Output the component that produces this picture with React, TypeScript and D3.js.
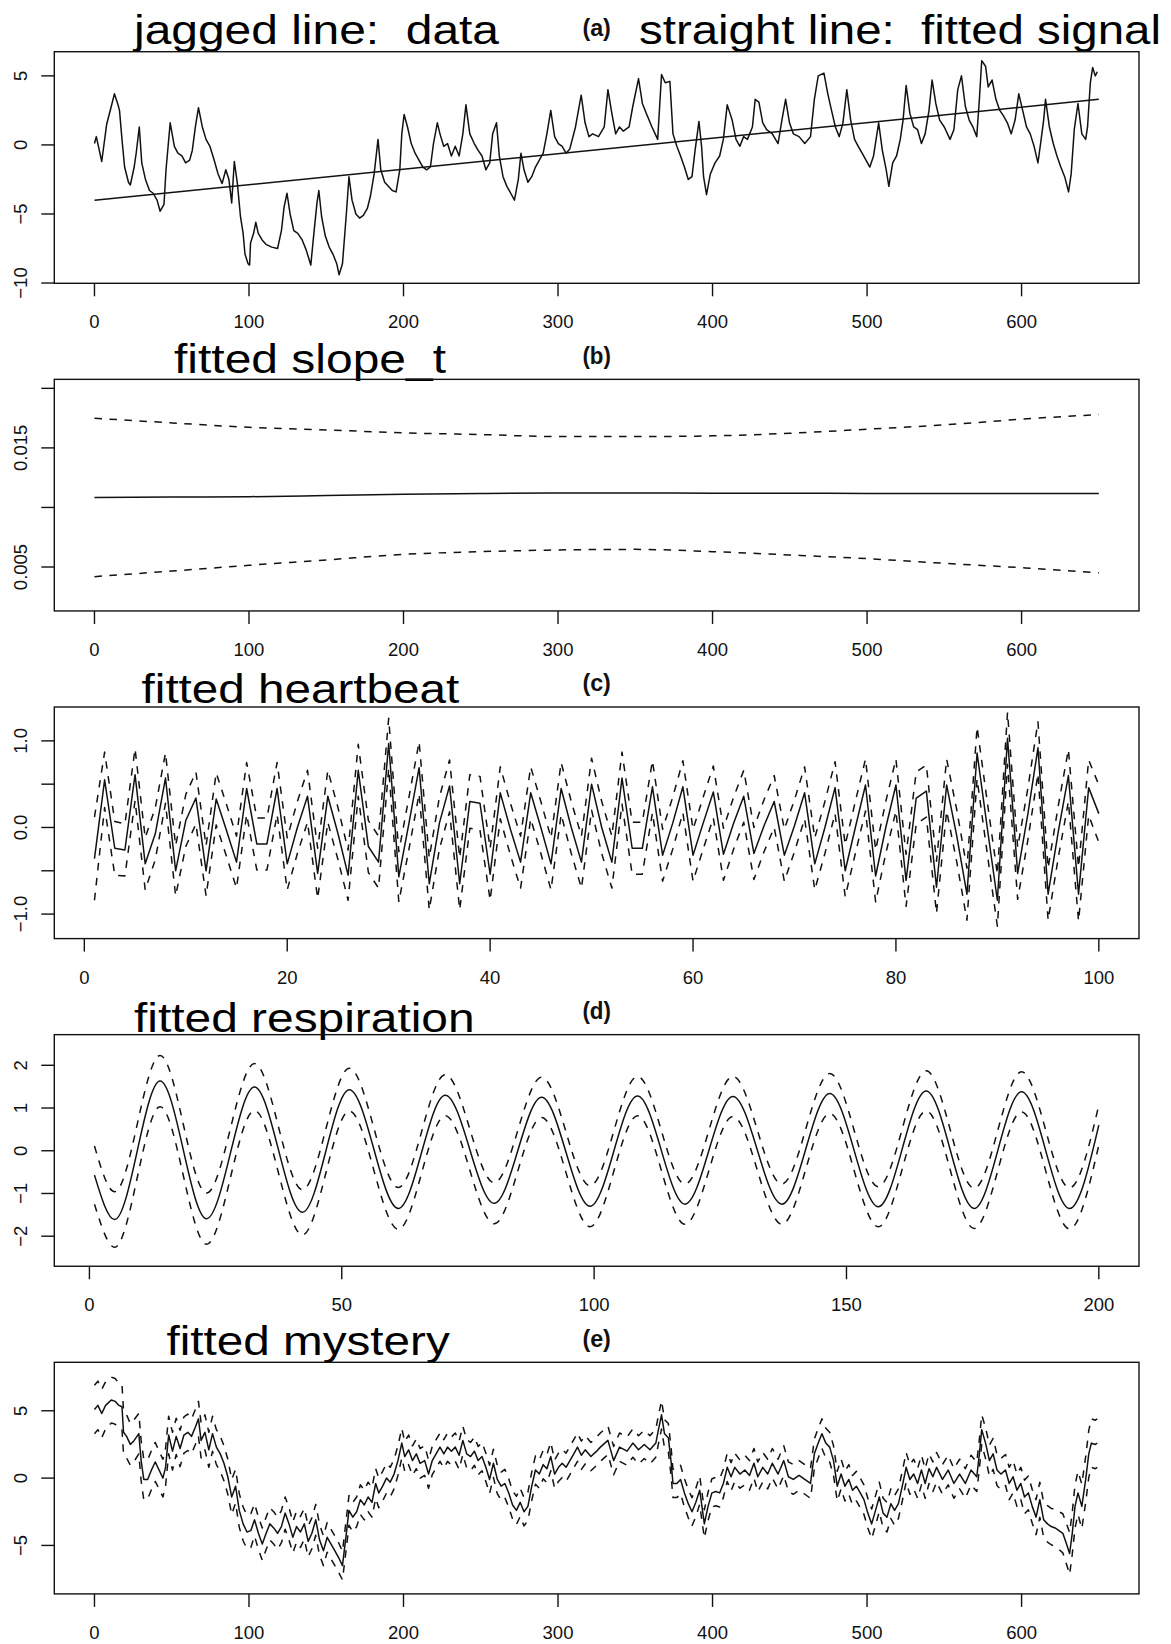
import React from 'react';
import * as d3 from 'd3';

const W = 1171;
const H = 1644;
const PANEL_H = 327.65;
const BOX = { left: 54.3, right: 1139, top: 51.7, bottom: 283.3 };
const FONT = '"Liberation Sans", Arial, Helvetica, sans-serif';
const INK = '#111';

// ---- tick values / labels ----
const longXTicks = [0, 100, 200, 300, 400, 500, 600];
const heartXTicks = [0, 20, 40, 60, 80, 100];
const respXTicks = [0, 50, 100, 150, 200];

const signalYTicks = [-10, -5, 0, 5];
const signalYLabels = ['\u221210', '\u22125', '0', '5'];
const slopeYTicks = [0.005, 0.01, 0.015, 0.02];
const slopeYLabels = ['0.005', '', '0.015', ''];
const heartYTicks = [-1, -0.5, 0, 0.5, 1];
const heartYLabels = ['\u22121.0', '', '0.0', '', '1.0'];
const respYTicks = [-2, -1, 0, 1, 2];
const respYLabels = ['\u22122', '\u22121', '0', '1', '2'];
const mysteryYTicks = [-5, 0, 5];
const mysteryYLabels = ['\u22125', '0', '5'];

// ---- (a) data: [t, value] ----
const signalPts = [
  [0, 0.1], [1.2, 0.6], [4.7, -1.2], [7.9, 1.5], [10.9, 2.8], [12.9, 3.7], [15, 3.0], [16.2, 2.5],
  [17.8, 0.4], [19.5, -1.6], [22, -2.7], [23.2, -2.9], [25.7, -1.6], [27, -0.6], [29, 1.3], [30.6, -1.3],
  [33, -2.5], [35.6, -3.3], [38, -3.5], [40.5, -4.0], [42.5, -4.8], [45, -4.3], [46.3, -1.8], [49, 1.6],
  [51.7, -0.1], [54, -0.6], [56.6, -0.8], [59, -1.3], [61.6, -1.1], [63.3, -0.4], [65.3, 1.3], [67.3, 2.7],
  [69.8, 1.3], [72.2, 0.4], [74.7, -0.1], [77.2, -1.0], [80, -2.1], [82.6, -2.8], [85, -1.8], [87, -2.5],
  [88.8, -4.2], [90.5, -1.2], [92.5, -2.8], [94.5, -5.2], [96.2, -6.4], [97.4, -7.9], [99.4, -8.6], [100.4, -8.7],
  [101, -7.1], [103, -6.4], [104.4, -5.6], [106, -6.4], [108.6, -6.9], [111, -7.2], [114.7, -7.4], [118.5, -7.5],
  [121, -6.2], [122.7, -4.5], [124.6, -3.5], [126.6, -5.0], [129, -6.2], [131.6, -6.4], [134.5, -6.9], [137, -7.6],
  [140, -8.7], [142, -6.4], [144, -4.2], [145.2, -3.3], [147, -5.2], [149.4, -6.6], [151.9, -7.4], [154.3, -7.9],
  [156.8, -8.6], [158.3, -9.4], [160.5, -8.6], [163, -5.0], [164.7, -2.3], [166.7, -4.0], [169.2, -5.0], [171.6, -5.3],
  [174, -5.1], [176.6, -4.6], [178.6, -3.7], [181, -2.1], [183.5, 0.4], [185.3, -1.8], [187.8, -2.7], [190.2, -3.0],
  [192.7, -3.3], [195.2, -3.4], [197.6, -1.8], [198.9, 0.8], [200.4, 2.2], [202.6, 1.3], [205, 0.1], [207.5, -0.6],
  [210, -1.1], [212.5, -1.6], [215, -1.8], [217.4, -1.6], [219.4, 0.1], [221.9, 1.6], [223.6, 0.8], [226, -0.1],
  [228.5, 0.1], [231, -0.8], [233.5, -0.1], [236, -0.8], [238.4, 0.8], [240.4, 2.9], [242.9, 0.8], [245.8, 0.1],
  [248.3, -0.4], [250.8, -0.8], [253.3, -1.8], [255.8, -1.3], [257.7, 0.8], [260.2, 1.6], [262, -0.8], [264.4, -2.3],
  [266.9, -3.0], [269.4, -3.5], [271.8, -4.0], [274.3, -2.5], [276, -0.6], [278, -1.8], [280.5, -2.7], [283, -2.3],
  [285.4, -1.6], [287.9, -1.1], [290.4, -0.6], [292.8, 0.8], [295.3, 2.5], [297.8, 0.6], [300.2, 0.1], [302.7, -0.1],
  [305.2, -0.6], [307.6, -0.3], [311.3, 1.3], [315, 3.6], [317.5, 1.6], [320, 0.6], [322.4, 0.8], [326.2, 0.6],
  [329.9, 1.3], [332.3, 4.0], [334.8, 2.3], [337.3, 0.8], [339.8, 1.3], [342.2, 1.0], [346, 1.3], [348.4, 2.8],
  [352.1, 4.8], [354.6, 3.0], [357.1, 2.3], [360.8, 1.3], [364.5, 0.4], [367, 5.1], [369.4, 4.5], [372.4, 4.6],
  [374.4, 0.8], [376.9, -0.1], [379.3, -0.8], [381.8, -1.6], [384.3, -2.5], [386.7, -2.3], [388.7, -0.4], [391.2, 1.7],
  [392.9, -0.1], [394.2, -2.3], [396.1, -3.6], [398.6, -2.1], [401.6, -1.3], [404.6, -0.8], [407, 0.4], [409.5, 2.9],
  [412.7, 1.8], [415.2, 0.4], [417.7, -0.1], [420.1, 0.6], [422.6, 0.4], [425.8, 1.3], [427.6, 3.3], [430, 3.1],
  [432.5, 1.6], [435, 1.1], [438.7, 0.8], [442.4, 0.1], [444.9, 1.8], [447.3, 3.3], [449.8, 1.6], [452.3, 0.8],
  [456, 0.6], [459.7, 0.1], [463.4, 0.6], [465.9, 3.3], [468.4, 5.0], [472.1, 5.2], [474.6, 3.7], [477, 2.5],
  [479.5, 1.3], [482, 0.6], [484.4, 1.6], [486.9, 4.0], [489.4, 1.8], [491.9, 0.4], [494.3, -0.1], [496.8, -0.6],
  [499.3, -1.1], [501.8, -1.6], [504.2, -0.8], [507.5, 1.6], [509.9, -0.4], [512.4, -1.8], [514.1, -3.0], [516.6, -1.3],
  [519.1, -0.8], [521.5, 0.4], [523.3, 1.8], [525.3, 4.3], [527.7, 2.3], [530.2, 1.3], [532.7, 1.1], [535.2, 0.1],
  [537.6, 0.8], [540.1, 2.5], [542.1, 4.7], [544.5, 3.0], [547, 1.8], [550, 1.3], [553.7, 0.4], [556.2, 1.1],
  [558.7, 4.0], [561.1, 5.0], [563.6, 2.8], [566.1, 1.8], [568.5, 1.3], [571, 0.6], [572.7, 3.3], [574.2, 6.1],
  [576.7, 5.7], [578.4, 4.2], [580.9, 4.7], [583.4, 3.3], [585.9, 2.5], [588.3, 2.1], [590.8, 1.6], [593.3, 0.8],
  [595.8, 1.8], [598.2, 3.7], [600.7, 2.5], [603.2, 1.3], [605.6, 0.8], [608.1, -0.1], [610.6, -1.3], [612.3, 0.1],
  [614.3, 1.8], [615.5, 3.3], [618, 1.3], [620.5, 0.1], [622.9, -0.8], [625.4, -1.6], [627.9, -2.3], [630.4, -3.4],
  [632.1, -2.1], [634.1, 1.1], [636.5, 3.0], [639, 0.8], [641.5, 0.4], [642.7, 1.3], [644.5, 4.5], [646, 5.6],
  [647.7, 5.0], [649, 5.3],
];
const levelX = [0, 650];
const levelY = [-4.0, 3.3];

// ---- (b) fitted slope with band ----
const slopeX = [0, 50, 100, 150, 200, 250, 300, 350, 400, 450, 500, 550, 600, 650];
const slopeFit = [0.01084, 0.01087, 0.0109, 0.011, 0.0111, 0.01117, 0.01122, 0.01121, 0.0112, 0.01119, 0.01118, 0.01118, 0.01118, 0.01118];
const slopeUpper = [0.01749, 0.0171, 0.01673, 0.01651, 0.01626, 0.01612, 0.01595, 0.01595, 0.01601, 0.01623, 0.01657, 0.01693, 0.01741, 0.0178];
const slopeLower = [0.00419, 0.00466, 0.00514, 0.00559, 0.00606, 0.00629, 0.00643, 0.00648, 0.00629, 0.00601, 0.0057, 0.00531, 0.00494, 0.00452];

// ---- (c) heartbeat, t = 1..100 ----
const heartFit = [
  -0.36, 0.55, -0.24, -0.26, 0.61, -0.42, -0.07, 0.57, -0.5, 0.08,
  0.34, -0.5, 0.33, -0.03, -0.4, 0.45, -0.19, -0.19, 0.45, -0.42,
  0.0, 0.36, -0.53, 0.36, -0.07, -0.55, 0.66, -0.22, -0.4, 0.97,
  -0.57, 0.05, 0.69, -0.65, 0.05, 0.48, -0.65, 0.3, 0.28, -0.54,
  0.4, -0.02, -0.4, 0.4, 0.0, -0.42, 0.45, 0.0, -0.4, 0.5,
  0.0, -0.4, 0.57, -0.24, -0.24, 0.47, -0.32, 0.05, 0.47, -0.32,
  0.05, 0.41, -0.31, 0.05, 0.36, -0.3, 0.02, 0.3, -0.32, 0.02,
  0.4, -0.42, 0.0, 0.46, -0.5, 0.0, 0.49, -0.56, 0.0, 0.49,
  -0.61, 0.34, 0.42, -0.69, 0.49, -0.1, -0.77, 0.86, 0.0, -0.84,
  1.03, -0.53, 0.15, 0.92, -0.77, -0.05, 0.6, -0.77, 0.46, 0.16,
];
const heartBand = [
  0.48, 0.32, 0.31, 0.3, 0.3, 0.3, 0.3, 0.29, 0.29, 0.3,
  0.3, 0.29, 0.3, 0.3, 0.3, 0.3, 0.3, 0.3, 0.3, 0.3,
  0.3, 0.3, 0.29, 0.3, 0.3, 0.29, 0.3, 0.3, 0.3, 0.29,
  0.29, 0.3, 0.3, 0.3, 0.3, 0.3, 0.3, 0.31, 0.31, 0.3,
  0.3, 0.3, 0.3, 0.3, 0.3, 0.3, 0.3, 0.3, 0.3, 0.3,
  0.3, 0.3, 0.3, 0.3, 0.3, 0.3, 0.3, 0.3, 0.3, 0.3,
  0.3, 0.3, 0.3, 0.3, 0.3, 0.3, 0.3, 0.3, 0.3, 0.3,
  0.3, 0.3, 0.3, 0.3, 0.3, 0.3, 0.3, 0.3, 0.3, 0.3,
  0.3, 0.3, 0.3, 0.3, 0.3, 0.3, 0.3, 0.3, 0.3, 0.3,
  0.3, 0.3, 0.3, 0.3, 0.3, 0.3, 0.3, 0.31, 0.32, 0.33,
];

// ---- (d) respiration: turning points ----
const respX = [1, 5, 14, 23.2, 32.7, 42.2, 51.5, 61.2, 70.5, 80.2, 89.6, 99.2, 108.6, 118, 127.5, 137.2, 146.7, 156.3, 165.8, 175.3, 184.7, 194.2, 200];
const respFit = [-0.57, -1.61, 1.63, -1.59, 1.49, -1.44, 1.43, -1.35, 1.3, -1.23, 1.25, -1.3, 1.28, -1.25, 1.27, -1.25, 1.34, -1.31, 1.4, -1.35, 1.38, -1.35, 0.6];
const respBand = [0.68, 0.65, 0.6, 0.6, 0.55, 0.53, 0.5, 0.49, 0.48, 0.48, 0.47, 0.48, 0.46, 0.47, 0.47, 0.47, 0.47, 0.47, 0.47, 0.47, 0.47, 0.48, 0.47];

// ---- (e) mystery: [t, fit, half-band] ----
const mysteryRows = [
  [0, 5.1, 1.8], [2.2, 5.4, 1.8], [4.7, 4.8, 1.8], [7.2, 5.4, 1.75], [10.9, 5.8, 1.7], [13.4, 5.7, 1.7], [15.8, 5.4, 1.65],
  [17.8, 5.3, 1.65], [18.8, 3.4, 1.6], [20.8, 3.1, 1.6], [23.2, 2.5, 1.55], [25.7, 2.8, 1.55], [28.7, 3.3, 1.5], [30.2, 1.3, 1.5],
  [31.9, -0.1, 1.5], [34.4, -0.1, 1.45], [36.9, 0.6, 1.45], [39.3, 1.2, 1.45], [41.8, 0.6, 1.4], [44.3, 0.0, 1.4], [46, 0.8, 1.4],
  [48, 3.2, 1.4], [50.5, 2.0, 1.4], [52.9, 3.1, 1.35], [55.4, 2.2, 1.35], [57.9, 3.2, 1.35], [60.4, 3.4, 1.35], [62.8, 3.1, 1.3],
  [65.3, 3.8, 1.3], [67.3, 4.4, 1.3], [69, 2.8, 1.3], [71.5, 3.4, 1.3], [74, 2.1, 1.3], [76.4, 3.3, 1.3], [78.9, 2.3, 1.3],
  [81.4, 1.8, 1.3], [83.8, 1.1, 1.3], [86.3, 0.1, 1.3], [88.8, -1.4, 1.3], [91.3, -0.6, 1.25], [93.7, -2.4, 1.25], [96.2, -3.4, 1.25],
  [98.7, -4.0, 1.25], [101.2, -3.9, 1.25], [103.6, -3.1, 1.2], [106.1, -4.1, 1.2], [108.6, -4.9, 1.2], [111.1, -4.1, 1.2], [113.5, -3.4, 1.2],
  [116, -3.7, 1.2], [118.5, -4.1, 1.2], [121, -3.6, 1.2], [123.4, -2.6, 1.2], [125.9, -3.4, 1.2], [128.4, -4.4, 1.15], [130.8, -3.6, 1.15],
  [133.3, -4.0, 1.15], [135.8, -3.4, 1.15], [138.3, -4.7, 1.15], [140.7, -4.1, 1.15], [143.2, -3.1, 1.15], [145.7, -4.6, 1.15], [148.2, -5.4, 1.1],
  [150.6, -4.4, 1.1], [153.1, -4.9, 1.1], [155.6, -5.4, 1.1], [158, -5.9, 1.1], [160.5, -6.5, 1.05], [163, -4.1, 1.1], [164.7, -2.4, 1.1],
  [167.2, -2.9, 1.1], [169.7, -2.5, 1.1], [172.1, -1.6, 1.1], [174.6, -2.0, 1.1], [177.1, -1.4, 1.1], [179.6, -1.8, 1.1], [182, -0.4, 1.1],
  [184, -1.1, 1.1], [186.5, -0.6, 1.1], [189, 0.0, 1.1], [191.4, -0.3, 1.1], [193.9, 0.3, 1.1], [196.4, 1.3, 1.1], [198.9, 2.6, 1.1],
  [200.8, 1.6, 1.1], [203.3, 2.1, 1.1], [205.8, 1.3, 1.1], [208.3, 1.8, 1.1], [210.7, 1.1, 1.1], [213.7, 1.3, 1.1], [216.2, 0.3, 1.05],
  [218.6, 1.3, 1.05], [221.1, 1.8, 1.05], [223.6, 2.3, 1.05], [226.1, 1.8, 1.05], [228.5, 2.3, 1.05], [231, 2.0, 1.05], [233.5, 2.3, 1.05],
  [236, 1.7, 1.05], [238.4, 2.8, 1.05], [240.9, 1.8, 1.05], [243.4, 1.6, 1.05], [245.9, 2.0, 1.05], [248.3, 1.3, 1.05], [250.8, 1.6, 1.05],
  [253.3, 0.8, 1.05], [255.7, -0.1, 1.05], [258.2, 1.1, 1.05], [260.7, -0.1, 1.05], [263.2, -0.6, 1.05], [265.6, -0.4, 1.05], [268.1, -1.1, 1.05],
  [270.6, -2.0, 1.05], [273.1, -2.4, 1.05], [275.5, -1.8, 1.05], [278, -2.5, 1.05], [280.5, -2.1, 1.05], [283, -0.6, 1.05], [285.4, 0.6, 1.05],
  [287.9, 0.3, 1.05], [290.4, 1.0, 1.05], [292.8, 0.7, 1.05], [295.3, 1.6, 1.05], [297.8, 0.3, 1.05], [300.3, 0.8, 1.05], [302.7, 1.1, 1.05],
  [305.2, 0.8, 1.05], [307.7, 1.3, 1.05], [310.2, 1.8, 1.05], [312.6, 2.3, 1.05], [315.1, 1.7, 1.05], [317.6, 2.1, 1.05], [321.3, 1.6, 1.05],
  [325, 2.0, 1.05], [327.4, 2.3, 1.05], [332.3, 2.8, 1.05], [336, 1.3, 1.05], [339.8, 2.3, 1.05], [344.7, 2.0, 1.05], [348.4, 2.6, 1.05],
  [352.1, 2.1, 1.05], [355.8, 2.5, 1.05], [359.5, 2.1, 1.05], [363.3, 2.6, 1.05], [365, 3.6, 1.05], [367, 4.7, 1.05], [368.9, 3.3, 1.05],
  [371.4, 3.0, 1.05], [373.1, 1.3, 1.05], [374.4, -0.4, 1.05], [376.9, -0.4, 1.05], [379.3, -0.1, 1.05], [381.8, -1.1, 1.05], [384.3, -1.9, 1.05],
  [386.7, -2.5, 1.05], [389.2, -1.8, 1.05], [391.7, -0.9, 1.05], [392.9, -1.9, 1.05], [394.7, -3.4, 1.05], [397.1, -2.1, 1.05], [399.6, -1.1, 1.05],
  [402.1, -1.0, 1.05], [404.6, -1.1, 1.05], [407, -0.4, 1.05], [409.5, 0.8, 1.05], [412, 0.1, 1.05], [414.4, 0.8, 1.05], [417.7, 0.3, 1.05],
  [420.9, 0.6, 1.1], [423.9, 0.2, 1.1], [426.8, 1.1, 1.1], [429.3, 0.1, 1.1], [432.5, 0.8, 1.1], [435.7, 0.3, 1.1], [438.7, 1.1, 1.1],
  [442.4, 0.3, 1.1], [446.1, 1.3, 1.1], [449.1, 0.1, 1.1], [452.3, -0.1, 1.1], [456, 0.2, 1.1], [459.7, -0.1, 1.1], [463.4, -0.4, 1.1],
  [465.9, 1.8, 1.1], [468.4, 2.6, 1.1], [470.8, 3.3, 1.1], [473.3, 2.6, 1.1], [475.8, 2.3, 1.1], [478.3, 1.3, 1.1], [480.7, -0.6, 1.1],
  [483.2, 0.3, 1.1], [485.7, -0.6, 1.1], [488.2, -0.1, 1.1], [490.6, -0.9, 1.1], [493.1, -0.6, 1.1], [495.6, -1.1, 1.1], [498, -1.6, 1.1],
  [500.5, -2.6, 1.1], [503, -3.4, 1.1], [505.5, -2.4, 1.1], [507.9, -1.4, 1.1], [510.4, -2.6, 1.1], [512.9, -2.9, 1.1], [515.4, -1.9, 1.1],
  [517.8, -2.4, 1.1], [520.3, -1.9, 1.1], [522.8, -0.6, 1.1], [525.3, 0.8, 1.1], [527.7, -0.1, 1.1], [530.2, 0.3, 1.1], [532.7, -0.4, 1.1],
  [535.2, 0.6, 1.1], [537.6, -0.4, 1.1], [540.1, 0.7, 1.1], [542.6, 0.1, 1.1], [545, 0.8, 1.1], [548.8, -0.1, 1.1], [552.5, 0.6, 1.1],
  [556.2, -0.4, 1.1], [559.9, 0.3, 1.1], [563.6, -0.4, 1.1], [567.3, 0.6, 1.1], [571, 0.1, 1.1], [572.7, 1.8, 1.1], [574.2, 3.6, 1.1],
  [576.7, 2.6, 1.15], [579.2, 1.3, 1.15], [581.6, 1.8, 1.15], [584.1, 0.6, 1.15], [586.6, 0.3, 1.15], [589.6, 0.6, 1.15], [592, -0.4, 1.2],
  [594.5, 0.1, 1.2], [597, -0.9, 1.2], [599.5, -0.4, 1.2], [601.9, -1.4, 1.25], [604.4, -1.1, 1.25], [606.9, -2.1, 1.25], [609.4, -2.9, 1.3],
  [611.8, -1.6, 1.3], [614.3, -3.1, 1.3], [616.8, -3.4, 1.35], [619.2, -3.6, 1.35], [621.7, -3.7, 1.4], [624.2, -3.9, 1.4], [626.7, -4.1, 1.45],
  [629.1, -4.9, 1.5], [631.1, -5.6, 1.55], [632.8, -4.1, 1.55], [634.6, -2.1, 1.6], [636.5, -1.1, 1.6], [639, -2.1, 1.65], [641.5, -0.1, 1.7],
  [643.5, 1.8, 1.75], [645.2, 2.6, 1.8], [647.7, 2.5, 1.8], [649, 2.6, 1.8],
];

// ---- titles (absolute baseline, left x, measured width) ----
const titleA = [
  { text: 'jagged line:  data', x: 134, width: 365, baseline: 44.3 },
  { text: 'straight line:  fitted signal', x: 639, width: 522, baseline: 44.3 },
];
const titleB = [{ text: 'fitted slope_t', x: 174, width: 272, baseline: 372.7 }];
const titleC = [{ text: 'fitted heartbeat', x: 141.6, width: 317.6, baseline: 702.7 }];
const titleD = [{ text: 'fitted respiration', x: 134, width: 340.6, baseline: 1031.7 }];
const titleE = [{ text: 'fitted mystery', x: 166.5, width: 283.2, baseline: 1355 }];

type Pt = [number, number];
type Series = { pts: Pt[]; dashed?: boolean; curve?: d3.CurveFactory };

function Panel({ index, tag, xDomain, yDomain, xTicks, yTicks, yLabels, titles, series }: {
  index: number; tag: string; xDomain: [number, number]; yDomain: [number, number];
  xTicks: number[]; yTicks: number[]; yLabels: string[];
  titles: { text: string; x: number; width: number; baseline: number }[];
  series: Series[];
}) {
  const top = index * PANEL_H;
  const x = d3.scaleLinear().domain(xDomain).range([BOX.left, BOX.right]);
  const y = d3.scaleLinear().domain(yDomain).range([BOX.bottom, BOX.top]);
  const clipId = `clip-${index}`;
  return (
    <g transform={`translate(0,${top})`}>
      <defs>
        <clipPath id={clipId}>
          <rect x={BOX.left} y={BOX.top} width={BOX.right - BOX.left} height={BOX.bottom - BOX.top} />
        </clipPath>
      </defs>
      {titles.map(t => (
        <text key={t.text} x={t.x} y={t.baseline - top} fontSize={41} fill="#000"
          style={{ whiteSpace: 'pre' }} textLength={t.width} lengthAdjust="spacingAndGlyphs">{t.text}</text>
      ))}
      <text x={(BOX.left + BOX.right) / 2} y={36} textAnchor="middle" fontWeight="bold"
        fontSize={24} fill={INK} textLength={28.5} lengthAdjust="spacingAndGlyphs">{tag}</text>
      <g clipPath={`url(#${clipId})`}>
        {series.map((s, i) => {
          const line = d3.line<Pt>().x(d => x(d[0])).y(d => y(d[1])).curve(s.curve ?? d3.curveLinear);
          return (
            <path key={i} d={line(s.pts) ?? ''} fill="none" stroke={INK}
              strokeWidth={1.5} strokeDasharray={s.dashed ? '7.5 7.5' : undefined} strokeLinejoin="round" />
          );
        })}
      </g>
      <rect x={BOX.left} y={BOX.top} width={BOX.right - BOX.left} height={BOX.bottom - BOX.top}
        fill="none" stroke={INK} strokeWidth={1.4} />
      {xTicks.map(t => (
        <g key={`x${t}`}>
          <line x1={x(t)} x2={x(t)} y1={BOX.bottom} y2={BOX.bottom + 13} stroke={INK} strokeWidth={1.4} />
          <text x={x(t)} y={328.3} textAnchor="middle" fontSize={18.5} fill={INK}>{t}</text>
        </g>
      ))}
      {yTicks.map((t, i) => (
        <g key={`y${t}`}>
          <line x1={BOX.left - 13} x2={BOX.left} y1={y(t)} y2={y(t)} stroke={INK} strokeWidth={1.4} />
          {yLabels[i] && (
            <text transform={`translate(26.5,${y(t)}) rotate(-90)`} textAnchor="middle"
              fontSize={18.5} fill={INK}>{yLabels[i]}</text>
          )}
        </g>
      ))}
    </g>
  );
}

export default function App() {
  const zip = (xs: number[], ys: number[]): Pt[] => xs.map((v, i) => [v, ys[i]]);
  const heartT = heartFit.map((_, i) => i + 1);

  const panelA: Series[] = [
    { pts: signalPts as Pt[] },
    { pts: zip(levelX, levelY) },
  ];
  const panelB: Series[] = [
    { pts: zip(slopeX, slopeFit), curve: d3.curveMonotoneX },
    { pts: zip(slopeX, slopeUpper), dashed: true, curve: d3.curveMonotoneX },
    { pts: zip(slopeX, slopeLower), dashed: true, curve: d3.curveMonotoneX },
  ];
  const panelC: Series[] = [
    { pts: zip(heartT, heartFit) },
    { pts: zip(heartT, heartFit.map((v, i) => v + heartBand[i])), dashed: true },
    { pts: zip(heartT, heartFit.map((v, i) => v - heartBand[i])), dashed: true },
  ];
  const panelD: Series[] = [
    { pts: zip(respX, respFit), curve: d3.curveMonotoneX },
    { pts: zip(respX, respFit.map((v, i) => v + respBand[i])), dashed: true, curve: d3.curveMonotoneX },
    { pts: zip(respX, respFit.map((v, i) => v - respBand[i])), dashed: true, curve: d3.curveMonotoneX },
  ];
  const panelE: Series[] = [
    { pts: mysteryRows.map(r => [r[0], r[1]] as Pt) },
    { pts: mysteryRows.map(r => [r[0], r[1] + r[2]] as Pt), dashed: true },
    { pts: mysteryRows.map(r => [r[0], r[1] - r[2]] as Pt), dashed: true },
  ];

  return (
    <svg width={W} height={H} viewBox={`0 0 ${W} ${H}`} fontFamily={FONT}
      style={{ position: 'absolute', left: 0, top: 0, display: 'block', background: '#fff' }}>
      <rect width={W} height={H} fill="#fff" />
      <Panel index={0} tag="(a)" xDomain={[-26, 676]} yDomain={[-10.02, 6.75]} xTicks={longXTicks}
        yTicks={signalYTicks} yLabels={signalYLabels} titles={titleA} series={panelA} />
      <Panel index={1} tag="(b)" xDomain={[-26, 676]} yDomain={[0.00131, 0.020755]} xTicks={longXTicks}
        yTicks={slopeYTicks} yLabels={slopeYLabels} titles={titleB} series={panelB} />
      <Panel index={2} tag="(c)" xDomain={[-2.96, 103.96]} yDomain={[-1.283, 1.391]} xTicks={heartXTicks}
        yTicks={heartYTicks} yLabels={heartYLabels} titles={titleC} series={panelC} />
      <Panel index={3} tag="(d)" xDomain={[-6.96, 207.96]} yDomain={[-2.703, 2.717]} xTicks={respXTicks}
        yTicks={respYTicks} yLabels={respYLabels} titles={titleD} series={panelD} />
      <Panel index={4} tag="(e)" xDomain={[-26, 676]} yDomain={[-8.6, 8.6]} xTicks={longXTicks}
        yTicks={mysteryYTicks} yLabels={mysteryYLabels} titles={titleE} series={panelE} />
    </svg>
  );
}
